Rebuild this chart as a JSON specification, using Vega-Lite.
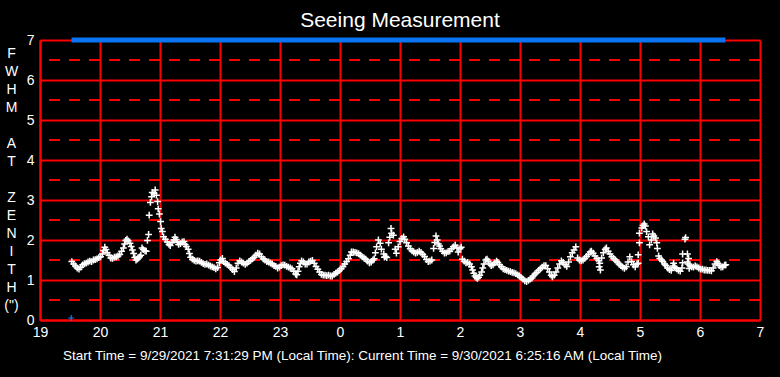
{
  "$schema": "https://vega.github.io/schema/vega-lite/v6.json",
  "width": 720,
  "height": 280,
  "autosize": "none",
  "padding": {"left": 40, "top": 40, "right": 20, "bottom": 57},
  "background": "#000000",
  "title": {
    "text": "Seeing Measurement",
    "color": "#ffffff",
    "font": "Liberation Sans",
    "fontSize": 21,
    "fontWeight": "normal",
    "anchor": "middle",
    "frame": "group",
    "baseline": "alphabetic",
    "offset": -15
  },
  "config": {
    "view": {"stroke": null},
    "axis": {
      "labelFont": "Liberation Sans",
      "titleFont": "Liberation Sans",
      "labelOverlap": false,
      "labelFlush": false
    }
  },
  "datasets": {
    "halves": [
      {"fwhm": 0.5}, {"fwhm": 1.5}, {"fwhm": 2.5}, {"fwhm": 3.5},
      {"fwhm": 4.5}, {"fwhm": 5.5}, {"fwhm": 6.5}
    ],
    "span": [
      {"hour": 19.525, "hour2": 30.421, "fwhm": 7}
    ],
    "first": [
      {"hour": 19.52, "fwhm": 0.05}
    ],
    "seeing": [
      {"hour": 19.53, "fwhm": 1.46}, {"hour": 19.56, "fwhm": 1.40}, {"hour": 19.59, "fwhm": 1.35},
      {"hour": 19.62, "fwhm": 1.30}, {"hour": 19.65, "fwhm": 1.27}, {"hour": 19.68, "fwhm": 1.32},
      {"hour": 19.71, "fwhm": 1.38}, {"hour": 19.74, "fwhm": 1.41}, {"hour": 19.77, "fwhm": 1.42},
      {"hour": 19.80, "fwhm": 1.45}, {"hour": 19.83, "fwhm": 1.47}, {"hour": 19.86, "fwhm": 1.46},
      {"hour": 19.89, "fwhm": 1.50}, {"hour": 19.92, "fwhm": 1.51}, {"hour": 19.95, "fwhm": 1.53},
      {"hour": 19.98, "fwhm": 1.56}, {"hour": 20.01, "fwhm": 1.58}, {"hour": 20.04, "fwhm": 1.65},
      {"hour": 20.06, "fwhm": 1.74}, {"hour": 20.08, "fwhm": 1.82}, {"hour": 20.10, "fwhm": 1.76},
      {"hour": 20.12, "fwhm": 1.68}, {"hour": 20.15, "fwhm": 1.62}, {"hour": 20.18, "fwhm": 1.55},
      {"hour": 20.21, "fwhm": 1.54}, {"hour": 20.24, "fwhm": 1.57}, {"hour": 20.27, "fwhm": 1.58},
      {"hour": 20.30, "fwhm": 1.60}, {"hour": 20.33, "fwhm": 1.64}, {"hour": 20.36, "fwhm": 1.72},
      {"hour": 20.39, "fwhm": 1.80}, {"hour": 20.41, "fwhm": 1.90}, {"hour": 20.43, "fwhm": 1.99},
      {"hour": 20.45, "fwhm": 2.02}, {"hour": 20.47, "fwhm": 1.98}, {"hour": 20.50, "fwhm": 1.92},
      {"hour": 20.52, "fwhm": 1.84}, {"hour": 20.54, "fwhm": 1.75}, {"hour": 20.56, "fwhm": 1.66},
      {"hour": 20.58, "fwhm": 1.56}, {"hour": 20.60, "fwhm": 1.50}, {"hour": 20.62, "fwhm": 1.52},
      {"hour": 20.64, "fwhm": 1.55}, {"hour": 20.66, "fwhm": 1.58}, {"hour": 20.68, "fwhm": 1.62},
      {"hour": 20.70, "fwhm": 1.80}, {"hour": 20.72, "fwhm": 1.76}, {"hour": 20.75, "fwhm": 1.73},
      {"hour": 20.77, "fwhm": 1.72},
      {"hour": 20.79, "fwhm": 1.99}, {"hour": 20.81, "fwhm": 2.14}, {"hour": 20.82, "fwhm": 2.62},
      {"hour": 20.84, "fwhm": 2.94}, {"hour": 20.86, "fwhm": 3.08}, {"hour": 20.87, "fwhm": 3.19},
      {"hour": 20.90, "fwhm": 3.16}, {"hour": 20.92, "fwhm": 3.25}, {"hour": 20.94, "fwhm": 3.12},
      {"hour": 20.96, "fwhm": 2.96}, {"hour": 20.97, "fwhm": 2.78}, {"hour": 20.99, "fwhm": 2.65},
      {"hour": 21.01, "fwhm": 2.46}, {"hour": 21.02, "fwhm": 2.29}, {"hour": 21.04, "fwhm": 2.21},
      {"hour": 21.06, "fwhm": 2.08}, {"hour": 21.09, "fwhm": 2.02}, {"hour": 21.12, "fwhm": 1.95},
      {"hour": 21.15, "fwhm": 1.89}, {"hour": 21.17, "fwhm": 1.86}, {"hour": 21.20, "fwhm": 1.94},
      {"hour": 21.23, "fwhm": 2.00}, {"hour": 21.25, "fwhm": 2.07}, {"hour": 21.27, "fwhm": 2.01},
      {"hour": 21.29, "fwhm": 1.95}, {"hour": 21.31, "fwhm": 1.89}, {"hour": 21.34, "fwhm": 1.91},
      {"hour": 21.37, "fwhm": 1.95}, {"hour": 21.40, "fwhm": 1.96}, {"hour": 21.42, "fwhm": 1.89},
      {"hour": 21.44, "fwhm": 1.84}, {"hour": 21.47, "fwhm": 1.77}, {"hour": 21.49, "fwhm": 1.66},
      {"hour": 21.51, "fwhm": 1.57}, {"hour": 21.54, "fwhm": 1.52}, {"hour": 21.57, "fwhm": 1.49},
      {"hour": 21.60, "fwhm": 1.47}, {"hour": 21.63, "fwhm": 1.48}, {"hour": 21.66, "fwhm": 1.47},
      {"hour": 21.69, "fwhm": 1.44}, {"hour": 21.72, "fwhm": 1.41}, {"hour": 21.75, "fwhm": 1.39},
      {"hour": 21.78, "fwhm": 1.40}, {"hour": 21.81, "fwhm": 1.37}, {"hour": 21.84, "fwhm": 1.35},
      {"hour": 21.87, "fwhm": 1.33}, {"hour": 21.90, "fwhm": 1.31}, {"hour": 21.93, "fwhm": 1.28},
      {"hour": 21.96, "fwhm": 1.31}, {"hour": 21.99, "fwhm": 1.43}, {"hour": 22.01, "fwhm": 1.50},
      {"hour": 22.04, "fwhm": 1.54}, {"hour": 22.06, "fwhm": 1.46}, {"hour": 22.09, "fwhm": 1.42},
      {"hour": 22.12, "fwhm": 1.39}, {"hour": 22.15, "fwhm": 1.36}, {"hour": 22.18, "fwhm": 1.31},
      {"hour": 22.21, "fwhm": 1.26}, {"hour": 22.24, "fwhm": 1.21}, {"hour": 22.27, "fwhm": 1.30},
      {"hour": 22.30, "fwhm": 1.42}, {"hour": 22.33, "fwhm": 1.48}, {"hour": 22.36, "fwhm": 1.45},
      {"hour": 22.39, "fwhm": 1.42}, {"hour": 22.42, "fwhm": 1.39}, {"hour": 22.45, "fwhm": 1.42},
      {"hour": 22.48, "fwhm": 1.46}, {"hour": 22.51, "fwhm": 1.49}, {"hour": 22.54, "fwhm": 1.53},
      {"hour": 22.57, "fwhm": 1.57}, {"hour": 22.60, "fwhm": 1.62}, {"hour": 22.63, "fwhm": 1.67},
      {"hour": 22.66, "fwhm": 1.65}, {"hour": 22.69, "fwhm": 1.58}, {"hour": 22.72, "fwhm": 1.53},
      {"hour": 22.75, "fwhm": 1.50}, {"hour": 22.78, "fwhm": 1.46}, {"hour": 22.81, "fwhm": 1.45},
      {"hour": 22.84, "fwhm": 1.42}, {"hour": 22.87, "fwhm": 1.40}, {"hour": 22.90, "fwhm": 1.36},
      {"hour": 22.93, "fwhm": 1.34}, {"hour": 22.96, "fwhm": 1.30}, {"hour": 22.99, "fwhm": 1.32},
      {"hour": 23.02, "fwhm": 1.36}, {"hour": 23.05, "fwhm": 1.38}, {"hour": 23.08, "fwhm": 1.37},
      {"hour": 23.11, "fwhm": 1.34}, {"hour": 23.14, "fwhm": 1.32}, {"hour": 23.17, "fwhm": 1.30},
      {"hour": 23.20, "fwhm": 1.28}, {"hour": 23.23, "fwhm": 1.22}, {"hour": 23.26, "fwhm": 1.15},
      {"hour": 23.28, "fwhm": 1.13}, {"hour": 23.30, "fwhm": 1.22}, {"hour": 23.32, "fwhm": 1.33},
      {"hour": 23.34, "fwhm": 1.42}, {"hour": 23.36, "fwhm": 1.48}, {"hour": 23.39, "fwhm": 1.45},
      {"hour": 23.42, "fwhm": 1.40}, {"hour": 23.45, "fwhm": 1.40}, {"hour": 23.48, "fwhm": 1.45},
      {"hour": 23.51, "fwhm": 1.47}, {"hour": 23.54, "fwhm": 1.49}, {"hour": 23.57, "fwhm": 1.42},
      {"hour": 23.60, "fwhm": 1.34}, {"hour": 23.63, "fwhm": 1.27}, {"hour": 23.66, "fwhm": 1.20},
      {"hour": 23.69, "fwhm": 1.14}, {"hour": 23.72, "fwhm": 1.12}, {"hour": 23.75, "fwhm": 1.12},
      {"hour": 23.78, "fwhm": 1.11}, {"hour": 23.81, "fwhm": 1.12}, {"hour": 23.84, "fwhm": 1.10},
      {"hour": 23.87, "fwhm": 1.10}, {"hour": 23.90, "fwhm": 1.14}, {"hour": 23.93, "fwhm": 1.17},
      {"hour": 23.96, "fwhm": 1.20}, {"hour": 23.99, "fwhm": 1.24}, {"hour": 24.02, "fwhm": 1.28},
      {"hour": 24.05, "fwhm": 1.34}, {"hour": 24.08, "fwhm": 1.40}, {"hour": 24.11, "fwhm": 1.46},
      {"hour": 24.14, "fwhm": 1.53}, {"hour": 24.17, "fwhm": 1.62}, {"hour": 24.19, "fwhm": 1.70},
      {"hour": 24.22, "fwhm": 1.70}, {"hour": 24.25, "fwhm": 1.69}, {"hour": 24.28, "fwhm": 1.68},
      {"hour": 24.31, "fwhm": 1.66}, {"hour": 24.34, "fwhm": 1.62}, {"hour": 24.37, "fwhm": 1.58},
      {"hour": 24.40, "fwhm": 1.55}, {"hour": 24.43, "fwhm": 1.52}, {"hour": 24.46, "fwhm": 1.47},
      {"hour": 24.49, "fwhm": 1.43}, {"hour": 24.52, "fwhm": 1.45}, {"hour": 24.55, "fwhm": 1.50},
      {"hour": 24.57, "fwhm": 1.53}, {"hour": 24.59, "fwhm": 1.68}, {"hour": 24.61, "fwhm": 1.83},
      {"hour": 24.64, "fwhm": 2.00}, {"hour": 24.67, "fwhm": 1.92}, {"hour": 24.69, "fwhm": 1.77},
      {"hour": 24.73, "fwhm": 1.65}, {"hour": 24.74, "fwhm": 1.57}, {"hour": 24.76, "fwhm": 1.59},
      {"hour": 24.78, "fwhm": 1.56}, {"hour": 24.81, "fwhm": 1.93}, {"hour": 24.83, "fwhm": 2.07},
      {"hour": 24.85, "fwhm": 2.29}, {"hour": 24.86, "fwhm": 2.17}, {"hour": 24.89, "fwhm": 2.12},
      {"hour": 24.92, "fwhm": 1.77}, {"hour": 24.94, "fwhm": 1.67}, {"hour": 24.97, "fwhm": 1.83},
      {"hour": 25.00, "fwhm": 1.96}, {"hour": 25.03, "fwhm": 2.04}, {"hour": 25.06, "fwhm": 2.08},
      {"hour": 25.08, "fwhm": 2.02}, {"hour": 25.11, "fwhm": 1.93}, {"hour": 25.14, "fwhm": 1.85},
      {"hour": 25.17, "fwhm": 1.78}, {"hour": 25.20, "fwhm": 1.73}, {"hour": 25.23, "fwhm": 1.70},
      {"hour": 25.26, "fwhm": 1.67}, {"hour": 25.29, "fwhm": 1.69}, {"hour": 25.32, "fwhm": 1.72},
      {"hour": 25.35, "fwhm": 1.69}, {"hour": 25.38, "fwhm": 1.64}, {"hour": 25.41, "fwhm": 1.59},
      {"hour": 25.44, "fwhm": 1.51}, {"hour": 25.47, "fwhm": 1.46}, {"hour": 25.50, "fwhm": 1.47},
      {"hour": 25.53, "fwhm": 1.50}, {"hour": 25.56, "fwhm": 1.79}, {"hour": 25.58, "fwhm": 1.94},
      {"hour": 25.60, "fwhm": 2.10}, {"hour": 25.62, "fwhm": 2.00}, {"hour": 25.64, "fwhm": 1.90},
      {"hour": 25.66, "fwhm": 1.85}, {"hour": 25.68, "fwhm": 1.78}, {"hour": 25.71, "fwhm": 1.72},
      {"hour": 25.74, "fwhm": 1.67}, {"hour": 25.77, "fwhm": 1.68}, {"hour": 25.80, "fwhm": 1.71},
      {"hour": 25.83, "fwhm": 1.72}, {"hour": 25.86, "fwhm": 1.78}, {"hour": 25.89, "fwhm": 1.83},
      {"hour": 25.92, "fwhm": 1.87}, {"hour": 25.95, "fwhm": 1.80}, {"hour": 25.97, "fwhm": 1.70},
      {"hour": 26.00, "fwhm": 1.78}, {"hour": 26.02, "fwhm": 1.82}, {"hour": 26.04, "fwhm": 1.52},
      {"hour": 26.07, "fwhm": 1.47}, {"hour": 26.10, "fwhm": 1.43}, {"hour": 26.13, "fwhm": 1.44},
      {"hour": 26.16, "fwhm": 1.40}, {"hour": 26.19, "fwhm": 1.33}, {"hour": 26.21, "fwhm": 1.25},
      {"hour": 26.23, "fwhm": 1.17}, {"hour": 26.25, "fwhm": 1.10}, {"hour": 26.27, "fwhm": 1.06},
      {"hour": 26.29, "fwhm": 1.04}, {"hour": 26.31, "fwhm": 1.07}, {"hour": 26.33, "fwhm": 1.12},
      {"hour": 26.36, "fwhm": 1.20}, {"hour": 26.38, "fwhm": 1.30}, {"hour": 26.40, "fwhm": 1.40},
      {"hour": 26.43, "fwhm": 1.50}, {"hour": 26.45, "fwhm": 1.52}, {"hour": 26.47, "fwhm": 1.47},
      {"hour": 26.50, "fwhm": 1.40}, {"hour": 26.52, "fwhm": 1.36}, {"hour": 26.55, "fwhm": 1.38},
      {"hour": 26.58, "fwhm": 1.43}, {"hour": 26.61, "fwhm": 1.47}, {"hour": 26.63, "fwhm": 1.44},
      {"hour": 26.66, "fwhm": 1.38}, {"hour": 26.69, "fwhm": 1.33}, {"hour": 26.72, "fwhm": 1.28},
      {"hour": 26.75, "fwhm": 1.26}, {"hour": 26.78, "fwhm": 1.24}, {"hour": 26.81, "fwhm": 1.22},
      {"hour": 26.84, "fwhm": 1.21}, {"hour": 26.87, "fwhm": 1.19}, {"hour": 26.90, "fwhm": 1.18},
      {"hour": 26.93, "fwhm": 1.16}, {"hour": 26.96, "fwhm": 1.13}, {"hour": 26.99, "fwhm": 1.10},
      {"hour": 27.02, "fwhm": 1.06}, {"hour": 27.05, "fwhm": 1.02}, {"hour": 27.08, "fwhm": 0.98},
      {"hour": 27.11, "fwhm": 0.96}, {"hour": 27.14, "fwhm": 0.99}, {"hour": 27.17, "fwhm": 1.02},
      {"hour": 27.20, "fwhm": 1.05}, {"hour": 27.22, "fwhm": 1.10}, {"hour": 27.25, "fwhm": 1.15},
      {"hour": 27.28, "fwhm": 1.19}, {"hour": 27.31, "fwhm": 1.24}, {"hour": 27.34, "fwhm": 1.28},
      {"hour": 27.37, "fwhm": 1.32}, {"hour": 27.40, "fwhm": 1.36}, {"hour": 27.43, "fwhm": 1.36},
      {"hour": 27.46, "fwhm": 1.28}, {"hour": 27.49, "fwhm": 1.20}, {"hour": 27.52, "fwhm": 1.12},
      {"hour": 27.54, "fwhm": 1.08}, {"hour": 27.57, "fwhm": 1.12}, {"hour": 27.60, "fwhm": 1.20},
      {"hour": 27.63, "fwhm": 1.30}, {"hour": 27.66, "fwhm": 1.40}, {"hour": 27.69, "fwhm": 1.48},
      {"hour": 27.72, "fwhm": 1.44}, {"hour": 27.75, "fwhm": 1.38}, {"hour": 27.78, "fwhm": 1.34},
      {"hour": 27.81, "fwhm": 1.45}, {"hour": 27.84, "fwhm": 1.58}, {"hour": 27.87, "fwhm": 1.68},
      {"hour": 27.90, "fwhm": 1.75}, {"hour": 27.93, "fwhm": 1.83}, {"hour": 27.96, "fwhm": 1.55},
      {"hour": 27.99, "fwhm": 1.50}, {"hour": 28.02, "fwhm": 1.48}, {"hour": 28.05, "fwhm": 1.50},
      {"hour": 28.08, "fwhm": 1.54}, {"hour": 28.11, "fwhm": 1.59}, {"hour": 28.14, "fwhm": 1.64},
      {"hour": 28.17, "fwhm": 1.70}, {"hour": 28.19, "fwhm": 1.72}, {"hour": 28.22, "fwhm": 1.67},
      {"hour": 28.25, "fwhm": 1.60}, {"hour": 28.28, "fwhm": 1.54}, {"hour": 28.31, "fwhm": 1.49},
      {"hour": 28.32, "fwhm": 1.33}, {"hour": 28.34, "fwhm": 1.25}, {"hour": 28.33, "fwhm": 1.42},
      {"hour": 28.36, "fwhm": 1.55}, {"hour": 28.39, "fwhm": 1.68}, {"hour": 28.42, "fwhm": 1.77},
      {"hour": 28.44, "fwhm": 1.80}, {"hour": 28.47, "fwhm": 1.72}, {"hour": 28.50, "fwhm": 1.65},
      {"hour": 28.53, "fwhm": 1.58}, {"hour": 28.56, "fwhm": 1.54}, {"hour": 28.59, "fwhm": 1.50},
      {"hour": 28.62, "fwhm": 1.45}, {"hour": 28.65, "fwhm": 1.40}, {"hour": 28.68, "fwhm": 1.36},
      {"hour": 28.71, "fwhm": 1.32}, {"hour": 28.74, "fwhm": 1.29}, {"hour": 28.77, "fwhm": 1.33},
      {"hour": 28.80, "fwhm": 1.45}, {"hour": 28.83, "fwhm": 1.58}, {"hour": 28.86, "fwhm": 1.46},
      {"hour": 28.89, "fwhm": 1.38}, {"hour": 28.92, "fwhm": 1.33}, {"hour": 28.95, "fwhm": 1.40},
      {"hour": 28.97, "fwhm": 1.42}, {"hour": 28.97, "fwhm": 1.63}, {"hour": 28.99, "fwhm": 1.93},
      {"hour": 28.99, "fwhm": 2.17}, {"hour": 29.03, "fwhm": 2.30}, {"hour": 29.05, "fwhm": 2.36},
      {"hour": 29.07, "fwhm": 2.40}, {"hour": 29.09, "fwhm": 2.35}, {"hour": 29.11, "fwhm": 2.21},
      {"hour": 29.14, "fwhm": 2.08}, {"hour": 29.16, "fwhm": 1.88}, {"hour": 29.19, "fwhm": 2.00},
      {"hour": 29.21, "fwhm": 2.15}, {"hour": 29.23, "fwhm": 2.10}, {"hour": 29.26, "fwhm": 2.05},
      {"hour": 29.28, "fwhm": 1.93}, {"hour": 29.29, "fwhm": 1.79}, {"hour": 29.31, "fwhm": 1.60},
      {"hour": 29.33, "fwhm": 1.54}, {"hour": 29.36, "fwhm": 1.50}, {"hour": 29.38, "fwhm": 1.46},
      {"hour": 29.41, "fwhm": 1.40}, {"hour": 29.43, "fwhm": 1.36}, {"hour": 29.46, "fwhm": 1.30},
      {"hour": 29.49, "fwhm": 1.26}, {"hour": 29.52, "fwhm": 1.24}, {"hour": 29.55, "fwhm": 1.35},
      {"hour": 29.56, "fwhm": 1.42}, {"hour": 29.58, "fwhm": 1.32}, {"hour": 29.61, "fwhm": 1.28},
      {"hour": 29.64, "fwhm": 1.24}, {"hour": 29.67, "fwhm": 1.22}, {"hour": 29.70, "fwhm": 1.30},
      {"hour": 29.71, "fwhm": 1.43}, {"hour": 29.71, "fwhm": 1.65}, {"hour": 29.75, "fwhm": 2.02},
      {"hour": 29.76, "fwhm": 2.06}, {"hour": 29.79, "fwhm": 1.65}, {"hour": 29.79, "fwhm": 1.45},
      {"hour": 29.81, "fwhm": 1.54}, {"hour": 29.82, "fwhm": 1.29}, {"hour": 29.80, "fwhm": 1.40},
      {"hour": 29.83, "fwhm": 1.36}, {"hour": 29.86, "fwhm": 1.33}, {"hour": 29.89, "fwhm": 1.32},
      {"hour": 29.92, "fwhm": 1.35}, {"hour": 29.95, "fwhm": 1.33}, {"hour": 29.98, "fwhm": 1.30},
      {"hour": 30.01, "fwhm": 1.27}, {"hour": 30.04, "fwhm": 1.27}, {"hour": 30.07, "fwhm": 1.25},
      {"hour": 30.10, "fwhm": 1.25}, {"hour": 30.13, "fwhm": 1.24}, {"hour": 30.16, "fwhm": 1.24},
      {"hour": 30.19, "fwhm": 1.23}, {"hour": 30.22, "fwhm": 1.30}, {"hour": 30.25, "fwhm": 1.40},
      {"hour": 30.28, "fwhm": 1.46}, {"hour": 30.30, "fwhm": 1.42}, {"hour": 30.32, "fwhm": 1.36},
      {"hour": 30.35, "fwhm": 1.32}, {"hour": 30.38, "fwhm": 1.33}, {"hour": 30.41, "fwhm": 1.37},
      {"hour": 30.43, "fwhm": 1.38}
    ]
  },
  "layer": [
    {
      "data": {"name": "halves"},
      "mark": {"type": "rule", "color": "#ff0000", "strokeWidth": 2, "strokeDash": [11, 9]},
      "encoding": {
        "y": {"field": "fwhm", "type": "quantitative"}
      }
    },
    {
      "data": {"name": "seeing"},
      "mark": {"type": "point", "shape": "M-1,0H1M0,-1V1", "size": 46, "filled": false, "stroke": "#ffffff", "strokeWidth": 1.5, "opacity": 1},
      "encoding": {
        "x": {
          "field": "hour",
          "type": "quantitative",
          "scale": {"domain": [19, 31], "nice": false, "zero": false},
          "axis": {
            "values": [19, 20, 21, 22, 23, 24, 25, 26, 27, 28, 29, 30, 31],
            "tickCount": 30,
            "labelExpr": "datum.value % 24",
            "grid": true,
            "gridColor": "#ff0000",
            "gridWidth": 2,
            "gridOpacity": 1,
            "domain": true,
            "domainColor": "#ff0000",
            "domainWidth": 2,
            "ticks": false,
            "labelColor": "#ffffff",
            "labelFontSize": 14,
            "labelPadding": 5,
            "labelFlush": false,
            "labelOverlap": false,
            "title": "Start Time = 9/29/2021 7:31:29 PM (Local Time): Current Time = 9/30/2021 6:25:16 AM (Local Time)",
            "titleColor": "#ffffff",
            "titleFontSize": 13.5,
            "titleFontWeight": "normal",
            "titleAnchor": "middle",
            "titleBaseline": "middle",
            "titleX": 322,
            "titleY": 35
          }
        },
        "y": {
          "field": "fwhm",
          "type": "quantitative",
          "scale": {"domain": [0, 7], "nice": false, "zero": false},
          "axis": {
            "values": [0, 1, 2, 3, 4, 5, 6, 7],
            "tickCount": 20,
            "format": "d",
            "grid": true,
            "gridColor": "#ff0000",
            "gridWidth": 2,
            "gridOpacity": 1,
            "domain": true,
            "domainColor": "#ff0000",
            "domainWidth": 2,
            "ticks": false,
            "labelColor": "#ffffff",
            "labelFontSize": 14,
            "labelPadding": 6,
            "labelFlush": false,
            "labelOverlap": false,
            "title": ["F", "W", "H", "M", "\u2800", "A", "T", "\u2800", "Z", "E", "N", "I", "T", "H", "(\")"],
            "titleColor": "#ffffff",
            "titleFontSize": 14,
            "titleFontWeight": "normal",
            "titleAngle": 0,
            "titleAlign": "center",
            "titleBaseline": "middle",
            "titleLineHeight": 18,
            "titleX": -29,
            "titleY": 13
          }
        }
      }
    },
    {
      "data": {"name": "span"},
      "mark": {"type": "rule", "color": "#0a74f2", "strokeWidth": 5},
      "encoding": {
        "x": {"field": "hour", "type": "quantitative"},
        "x2": {"field": "hour2"},
        "y": {"field": "fwhm", "type": "quantitative"}
      }
    },
    {
      "data": {"name": "first"},
      "mark": {"type": "point", "shape": "M-1,0H1M0,-1V1", "size": 36, "filled": false, "stroke": "#1a7cf0", "strokeWidth": 1.2, "opacity": 1},
      "encoding": {
        "x": {"field": "hour", "type": "quantitative"},
        "y": {"field": "fwhm", "type": "quantitative"}
      }
    }
  ]
}
